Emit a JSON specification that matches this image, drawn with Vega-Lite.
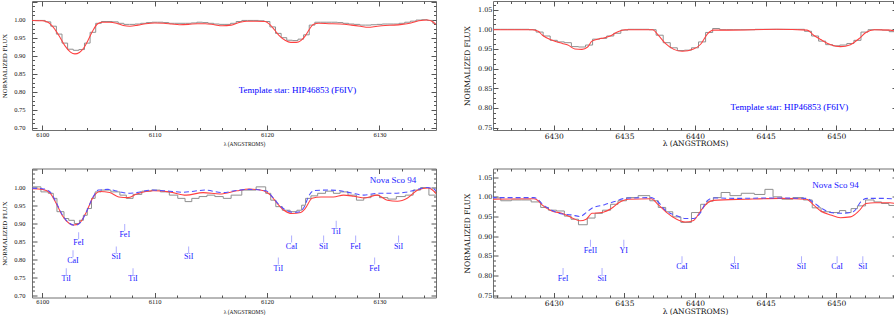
{
"$schema":"https://vega.github.io/schema/vega-lite/v6.json",
"padding":{"left":1,"top":-2,"right":0,"bottom":0},
"config":{"view":{"stroke":"#707070","strokeWidth":1},"axis":{"domain":false,"grid":false,"tickColor":"#555","tickWidth":1,"labelColor":"#111","titleColor":"#111","titleFontWeight":"normal","labelOverlap":false,"labelFlush":false,"labelBound":false}},
"columns":2,
"align":"each",
"spacing":{"row":17.5,"column":26},
"datasets":{
"tlr":[{"w":6099.08,"f":0.998},{"w":6100.0,"f":0.997},{"w":6100.5,"f":0.993},{"w":6101.0,"f":0.978},{"w":6101.5,"f":0.955},{"w":6102.0,"f":0.928},{"w":6102.5,"f":0.91},{"w":6102.9,"f":0.905},{"w":6103.3,"f":0.909},{"w":6103.7,"f":0.922},{"w":6104.1,"f":0.945},{"w":6104.5,"f":0.97},{"w":6104.9,"f":0.988},{"w":6105.3,"f":0.993},{"w":6106.0,"f":0.993},{"w":6106.6,"f":0.99},{"w":6107.2,"f":0.984},{"w":6107.8,"f":0.982},{"w":6108.5,"f":0.985},{"w":6109.2,"f":0.989},{"w":6110.0,"f":0.991},{"w":6110.8,"f":0.99},{"w":6111.5,"f":0.988},{"w":6112.2,"f":0.986},{"w":6113.0,"f":0.987},{"w":6113.8,"f":0.989},{"w":6114.5,"f":0.989},{"w":6115.3,"f":0.986},{"w":6116.0,"f":0.983},{"w":6116.8,"f":0.985},{"w":6117.5,"f":0.992},{"w":6118.2,"f":0.996},{"w":6119.0,"f":0.996},{"w":6119.8,"f":0.995},{"w":6120.3,"f":0.985},{"w":6120.7,"f":0.97},{"w":6121.1,"f":0.955},{"w":6121.6,"f":0.943},{"w":6122.1,"f":0.937},{"w":6122.6,"f":0.937},{"w":6123.0,"f":0.942},{"w":6123.4,"f":0.955},{"w":6123.8,"f":0.975},{"w":6124.1,"f":0.987},{"w":6124.6,"f":0.99},{"w":6125.5,"f":0.989},{"w":6126.5,"f":0.988},{"w":6127.5,"f":0.985},{"w":6128.3,"f":0.982},{"w":6129.0,"f":0.979},{"w":6129.8,"f":0.982},{"w":6130.5,"f":0.984},{"w":6131.3,"f":0.985},{"w":6132.0,"f":0.987},{"w":6132.8,"f":0.991},{"w":6133.5,"f":0.997},{"w":6134.3,"f":0.999},{"w":6134.7,"f":0.995},{"w":6135.03,"f":0.987}],
"tlg":[{"w":6099.0,"f":0.998},{"w":6099.5,"f":0.998},{"w":6100.0,"f":0.998},{"w":6100.5,"f":0.994},{"w":6101.0,"f":0.982},{"w":6101.5,"f":0.96},{"w":6102.0,"f":0.935},{"w":6102.5,"f":0.918},{"w":6103.0,"f":0.915},{"w":6103.5,"f":0.917},{"w":6104.0,"f":0.935},{"w":6104.5,"f":0.965},{"w":6105.0,"f":0.99},{"w":6105.5,"f":0.995},{"w":6106.0,"f":0.995},{"w":6106.5,"f":0.994},{"w":6107.0,"f":0.99},{"w":6107.5,"f":0.987},{"w":6108.0,"f":0.987},{"w":6108.5,"f":0.988},{"w":6109.0,"f":0.99},{"w":6109.5,"f":0.992},{"w":6110.0,"f":0.993},{"w":6110.5,"f":0.993},{"w":6111.0,"f":0.992},{"w":6111.5,"f":0.99},{"w":6112.0,"f":0.99},{"w":6112.5,"f":0.99},{"w":6113.0,"f":0.99},{"w":6113.5,"f":0.991},{"w":6114.0,"f":0.993},{"w":6114.5,"f":0.992},{"w":6115.0,"f":0.99},{"w":6115.5,"f":0.988},{"w":6116.0,"f":0.987},{"w":6116.5,"f":0.987},{"w":6117.0,"f":0.99},{"w":6117.5,"f":0.995},{"w":6118.0,"f":0.998},{"w":6118.5,"f":0.998},{"w":6119.0,"f":0.998},{"w":6119.5,"f":0.997},{"w":6120.0,"f":0.995},{"w":6120.5,"f":0.98},{"w":6121.0,"f":0.962},{"w":6121.5,"f":0.95},{"w":6122.0,"f":0.943},{"w":6122.5,"f":0.942},{"w":6123.0,"f":0.946},{"w":6123.5,"f":0.958},{"w":6124.0,"f":0.985},{"w":6124.5,"f":0.993},{"w":6125.0,"f":0.993},{"w":6125.5,"f":0.993},{"w":6126.0,"f":0.993},{"w":6126.5,"f":0.992},{"w":6127.0,"f":0.99},{"w":6127.5,"f":0.988},{"w":6128.0,"f":0.987},{"w":6128.5,"f":0.985},{"w":6129.0,"f":0.985},{"w":6129.5,"f":0.986},{"w":6130.0,"f":0.987},{"w":6130.5,"f":0.988},{"w":6131.0,"f":0.988},{"w":6131.5,"f":0.988},{"w":6132.0,"f":0.99},{"w":6132.5,"f":0.993},{"w":6133.0,"f":0.996},{"w":6133.5,"f":0.999},{"w":6134.0,"f":1.0},{"w":6134.5,"f":0.998},{"w":6135.0,"f":0.99}],
"trr":[{"w":6425.7,"f":0.999},{"w":6428.5,"f":0.999},{"w":6428.9,"f":0.995},{"w":6429.2,"f":0.985},{"w":6429.9,"f":0.972},{"w":6430.6,"f":0.964},{"w":6431.0,"f":0.96},{"w":6431.5,"f":0.95},{"w":6432.0,"f":0.949},{"w":6432.4,"f":0.955},{"w":6432.7,"f":0.97},{"w":6433.4,"f":0.977},{"w":6434.0,"f":0.983},{"w":6434.5,"f":0.993},{"w":6435.05,"f":0.999},{"w":6437.0,"f":0.999},{"w":6437.4,"f":0.985},{"w":6437.9,"f":0.964},{"w":6438.5,"f":0.949},{"w":6439.1,"f":0.944},{"w":6439.9,"f":0.95},{"w":6440.4,"f":0.962},{"w":6440.9,"f":0.989},{"w":6441.3,"f":0.998},{"w":6442.3,"f":0.998},{"w":6445.8,"f":1.0},{"w":6447.94,"f":0.998},{"w":6448.4,"f":0.985},{"w":6448.9,"f":0.974},{"w":6449.6,"f":0.961},{"w":6450.3,"f":0.956},{"w":6451.0,"f":0.961},{"w":6451.6,"f":0.976},{"w":6452.1,"f":0.992},{"w":6452.7,"f":0.999},{"w":6453.8,"f":0.998},{"w":6454.3,"f":0.994}],
"trg":[{"w":6425.5,"f":0.999},{"w":6426.0,"f":1.0},{"w":6426.5,"f":1.0},{"w":6427.0,"f":1.0},{"w":6427.5,"f":1.0},{"w":6428.0,"f":1.0},{"w":6428.5,"f":0.999},{"w":6429.0,"f":0.993},{"w":6429.5,"f":0.983},{"w":6430.0,"f":0.972},{"w":6430.5,"f":0.968},{"w":6431.0,"f":0.966},{"w":6431.5,"f":0.956},{"w":6432.0,"f":0.955},{"w":6432.5,"f":0.96},{"w":6433.0,"f":0.975},{"w":6433.5,"f":0.977},{"w":6434.0,"f":0.983},{"w":6434.5,"f":0.99},{"w":6435.0,"f":0.998},{"w":6435.5,"f":1.0},{"w":6436.0,"f":1.0},{"w":6436.5,"f":1.0},{"w":6437.0,"f":0.999},{"w":6437.5,"f":0.985},{"w":6438.0,"f":0.966},{"w":6438.5,"f":0.953},{"w":6439.0,"f":0.946},{"w":6439.5,"f":0.947},{"w":6440.0,"f":0.953},{"w":6440.5,"f":0.968},{"w":6441.0,"f":0.992},{"w":6441.5,"f":1.002},{"w":6442.0,"f":0.999},{"w":6442.5,"f":0.999},{"w":6443.0,"f":0.999},{"w":6443.5,"f":0.999},{"w":6444.0,"f":0.999},{"w":6444.5,"f":1.0},{"w":6445.0,"f":1.0},{"w":6445.5,"f":1.0},{"w":6446.0,"f":1.0},{"w":6446.5,"f":1.0},{"w":6447.0,"f":1.0},{"w":6447.5,"f":1.0},{"w":6448.0,"f":0.995},{"w":6448.5,"f":0.983},{"w":6449.0,"f":0.97},{"w":6449.5,"f":0.961},{"w":6450.0,"f":0.958},{"w":6450.5,"f":0.96},{"w":6451.0,"f":0.964},{"w":6451.5,"f":0.972},{"w":6452.0,"f":0.993},{"w":6452.5,"f":0.999},{"w":6453.0,"f":0.999},{"w":6453.5,"f":0.998},{"w":6454.0,"f":0.994},{"w":6454.5,"f":0.994}],
"blr":[{"w":6099.08,"f":0.996},{"w":6100.0,"f":0.994},{"w":6100.65,"f":0.985},{"w":6101.2,"f":0.957},{"w":6101.8,"f":0.92},{"w":6102.4,"f":0.899},{"w":6102.8,"f":0.895},{"w":6103.3,"f":0.9},{"w":6103.9,"f":0.93},{"w":6104.5,"f":0.971},{"w":6105.1,"f":0.988},{"w":6106.0,"f":0.985},{"w":6106.8,"f":0.973},{"w":6107.6,"f":0.971},{"w":6108.4,"f":0.981},{"w":6109.9,"f":0.99},{"w":6111.3,"f":0.987},{"w":6112.8,"f":0.978},{"w":6114.3,"f":0.985},{"w":6115.8,"f":0.981},{"w":6117.3,"f":0.99},{"w":6118.4,"f":0.995},{"w":6119.7,"f":0.99},{"w":6120.3,"f":0.978},{"w":6120.9,"f":0.955},{"w":6121.5,"f":0.936},{"w":6122.2,"f":0.927},{"w":6123.0,"f":0.93},{"w":6123.4,"f":0.941},{"w":6124.0,"f":0.969},{"w":6124.8,"f":0.973},{"w":6125.9,"f":0.973},{"w":6126.8,"f":0.978},{"w":6127.7,"f":0.975},{"w":6128.7,"f":0.97},{"w":6129.8,"f":0.978},{"w":6130.7,"f":0.964},{"w":6131.6,"f":0.961},{"w":6132.5,"f":0.97},{"w":6133.4,"f":0.992},{"w":6134.3,"f":0.998},{"w":6134.9,"f":0.987},{"w":6135.03,"f":0.982}],
"blb":[{"w":6099.08,"f":0.997},{"w":6100.0,"f":0.996},{"w":6100.65,"f":0.988},{"w":6101.2,"f":0.96},{"w":6101.8,"f":0.922},{"w":6102.4,"f":0.9},{"w":6102.9,"f":0.894},{"w":6103.4,"f":0.902},{"w":6103.9,"f":0.93},{"w":6104.5,"f":0.972},{"w":6105.0,"f":0.992},{"w":6105.8,"f":0.994},{"w":6106.8,"f":0.988},{"w":6107.6,"f":0.983},{"w":6108.4,"f":0.985},{"w":6109.7,"f":0.992},{"w":6111.0,"f":0.99},{"w":6112.5,"f":0.986},{"w":6113.5,"f":0.989},{"w":6114.5,"f":0.992},{"w":6116.0,"f":0.985},{"w":6117.3,"f":0.991},{"w":6118.4,"f":0.994},{"w":6119.9,"f":0.99},{"w":6120.5,"f":0.972},{"w":6121.1,"f":0.95},{"w":6121.7,"f":0.936},{"w":6122.3,"f":0.93},{"w":6122.9,"f":0.932},{"w":6123.3,"f":0.945},{"w":6123.7,"f":0.975},{"w":6124.2,"f":0.991},{"w":6125.5,"f":0.992},{"w":6126.5,"f":0.99},{"w":6127.5,"f":0.984},{"w":6128.6,"f":0.978},{"w":6129.8,"f":0.983},{"w":6131.0,"f":0.983},{"w":6132.3,"f":0.986},{"w":6133.3,"f":0.993},{"w":6134.2,"f":0.999},{"w":6134.8,"f":0.996},{"w":6135.03,"f":0.99}],
"blg":[{"w":6099.0,"f":1.001},{"w":6099.5,"f":1.001},{"w":6100.25,"f":0.987},{"w":6100.8,"f":0.983},{"w":6101.15,"f":0.969},{"w":6101.45,"f":0.932},{"w":6101.75,"f":0.932},{"w":6102.1,"f":0.913},{"w":6102.6,"f":0.908},{"w":6103.1,"f":0.899},{"w":6103.5,"f":0.908},{"w":6103.8,"f":0.922},{"w":6104.2,"f":0.941},{"w":6104.55,"f":0.969},{"w":6104.85,"f":0.987},{"w":6105.6,"f":0.992},{"w":6106.6,"f":0.987},{"w":6107.2,"f":0.978},{"w":6107.75,"f":0.969},{"w":6108.4,"f":0.98},{"w":6109.3,"f":0.989},{"w":6110.1,"f":0.992},{"w":6110.9,"f":0.987},{"w":6111.7,"f":0.978},{"w":6112.4,"f":0.969},{"w":6113.0,"f":0.96},{"w":6113.6,"f":0.969},{"w":6114.3,"f":0.974},{"w":6115.0,"f":0.978},{"w":6115.7,"f":0.974},{"w":6116.5,"f":0.969},{"w":6117.1,"f":0.978},{"w":6118.4,"f":0.992},{"w":6119.65,"f":1.001},{"w":6120.1,"f":0.983},{"w":6120.55,"f":0.964},{"w":6121.0,"f":0.946},{"w":6121.7,"f":0.936},{"w":6122.4,"f":0.932},{"w":6122.9,"f":0.936},{"w":6123.25,"f":0.95},{"w":6123.6,"f":0.969},{"w":6124.2,"f":0.976},{"w":6124.8,"f":0.983},{"w":6125.6,"f":0.989},{"w":6126.2,"f":0.983},{"w":6126.8,"f":0.987},{"w":6127.6,"f":0.978},{"w":6128.3,"f":0.964},{"w":6128.9,"f":0.971},{"w":6129.6,"f":0.978},{"w":6130.4,"f":0.971},{"w":6131.1,"f":0.967},{"w":6131.9,"f":0.974},{"w":6132.7,"f":0.978},{"w":6133.3,"f":0.992},{"w":6134.0,"f":0.999},{"w":6134.8,"f":0.978},{"w":6135.2,"f":0.978}],
"bli":[{"w":6102.13,"f":0.744,"t":"TiI"},{"w":6102.73,"f":0.794,"t":"CaI"},{"w":6103.23,"f":0.844,"t":"FeI"},{"w":6106.58,"f":0.805,"t":"SiI"},{"w":6107.33,"f":0.867,"t":"FeI"},{"w":6108.07,"f":0.744,"t":"TiI"},{"w":6113.02,"f":0.805,"t":"SiI"},{"w":6121.0,"f":0.774,"t":"TiI"},{"w":6122.18,"f":0.835,"t":"CaI"},{"w":6125.03,"f":0.835,"t":"SiI"},{"w":6126.15,"f":0.876,"t":"TiI"},{"w":6127.88,"f":0.835,"t":"FeI"},{"w":6129.57,"f":0.774,"t":"FeI"},{"w":6131.7,"f":0.835,"t":"SiI"}],
"brr":[{"w":6425.6,"f":0.994},{"w":6428.6,"f":0.995},{"w":6428.9,"f":0.99},{"w":6429.15,"f":0.98},{"w":6429.86,"f":0.964},{"w":6430.57,"f":0.958},{"w":6431.27,"f":0.947},{"w":6431.86,"f":0.939},{"w":6432.3,"f":0.943},{"w":6432.7,"f":0.958},{"w":6433.4,"f":0.96},{"w":6434.1,"f":0.971},{"w":6434.6,"f":0.985},{"w":6435.3,"f":0.994},{"w":6436.9,"f":0.995},{"w":6437.4,"f":0.98},{"w":6438.0,"f":0.96},{"w":6438.7,"f":0.943},{"w":6439.3,"f":0.936},{"w":6439.9,"f":0.94},{"w":6440.4,"f":0.964},{"w":6440.9,"f":0.985},{"w":6441.3,"f":0.991},{"w":6443.6,"f":0.994},{"w":6446.0,"f":0.996},{"w":6447.9,"f":0.994},{"w":6448.4,"f":0.979},{"w":6448.9,"f":0.964},{"w":6449.6,"f":0.954},{"w":6450.3,"f":0.947},{"w":6451.0,"f":0.949},{"w":6451.6,"f":0.964},{"w":6452.1,"f":0.983},{"w":6452.7,"f":0.985},{"w":6453.8,"f":0.985},{"w":6454.3,"f":0.982}],
"brb":[{"w":6425.6,"f":0.998},{"w":6428.6,"f":0.998},{"w":6428.9,"f":0.993},{"w":6429.15,"f":0.983},{"w":6429.86,"f":0.966},{"w":6430.5,"f":0.957},{"w":6431.27,"f":0.954},{"w":6431.86,"f":0.95},{"w":6432.3,"f":0.96},{"w":6432.7,"f":0.971},{"w":6433.6,"f":0.98},{"w":6434.3,"f":0.988},{"w":6435.05,"f":0.996},{"w":6436.9,"f":0.998},{"w":6437.3,"f":0.99},{"w":6437.9,"f":0.966},{"w":6438.7,"f":0.952},{"w":6439.3,"f":0.945},{"w":6439.9,"f":0.945},{"w":6440.4,"f":0.96},{"w":6440.8,"f":0.988},{"w":6441.3,"f":0.997},{"w":6443.0,"f":0.996},{"w":6445.0,"f":0.997},{"w":6447.9,"f":0.996},{"w":6448.4,"f":0.985},{"w":6449.0,"f":0.97},{"w":6449.6,"f":0.96},{"w":6450.3,"f":0.958},{"w":6451.2,"f":0.962},{"w":6451.8,"f":0.99},{"w":6452.2,"f":0.996},{"w":6453.5,"f":0.996},{"w":6454.3,"f":0.994}],
"brg":[{"w":6425.4,"f":0.997},{"w":6425.9,"f":0.997},{"w":6426.6,"f":0.99},{"w":6427.4,"f":0.992},{"w":6428.0,"f":0.992},{"w":6428.8,"f":0.987},{"w":6429.35,"f":0.973},{"w":6429.9,"f":0.966},{"w":6430.5,"f":0.964},{"w":6431.0,"f":0.951},{"w":6431.45,"f":0.943},{"w":6432.05,"f":0.929},{"w":6432.7,"f":0.946},{"w":6433.15,"f":0.958},{"w":6433.75,"f":0.966},{"w":6434.3,"f":0.981},{"w":6434.8,"f":0.99},{"w":6435.5,"f":0.998},{"w":6436.45,"f":1.003},{"w":6437.15,"f":0.99},{"w":6437.65,"f":0.973},{"w":6438.2,"f":0.962},{"w":6438.65,"f":0.949},{"w":6439.35,"f":0.935},{"w":6440.15,"f":0.96},{"w":6440.65,"f":0.981},{"w":6441.05,"f":0.989},{"w":6441.55,"f":0.998},{"w":6442.15,"f":1.011},{"w":6442.8,"f":1.003},{"w":6443.75,"f":1.009},{"w":6444.65,"f":1.006},{"w":6445.25,"f":1.019},{"w":6445.8,"f":1.0},{"w":6446.5,"f":0.994},{"w":6447.35,"f":0.998},{"w":6448.0,"f":0.992},{"w":6448.6,"f":0.972},{"w":6449.25,"f":0.962},{"w":6449.95,"f":0.96},{"w":6450.5,"f":0.965},{"w":6450.85,"f":0.96},{"w":6451.25,"f":0.97},{"w":6451.75,"f":0.977},{"w":6452.4,"f":0.992},{"w":6452.95,"f":0.987},{"w":6453.45,"f":0.983},{"w":6454.0,"f":0.978},{"w":6454.6,"f":0.978}],
"bri":[{"w":6430.66,"f":0.791,"t":"FeI"},{"w":6432.6,"f":0.863,"t":"FeII"},{"w":6433.42,"f":0.791,"t":"SiI"},{"w":6434.96,"f":0.863,"t":"YI"},{"w":6439.08,"f":0.821,"t":"CaI"},{"w":6442.8,"f":0.821,"t":"SiI"},{"w":6447.54,"f":0.821,"t":"SiI"},{"w":6450.06,"f":0.821,"t":"CaI"},{"w":6451.88,"f":0.821,"t":"SiI"}]
},
"concat":[
{"width":404,"height":129,
"resolve":{"axis":{"x":"independent","y":"independent"}},
"encoding":{"x":{"field":"w","type":"quantitative","scale":{"domain":[6099.08,6135.03],"nice":false,"zero":false},"axis":null},"y":{"field":"f","type":"quantitative","scale":{"domain":[0.6935,1.052],"nice":false,"zero":false},"axis":null}},
"layer":[
{"data":{"name":"tlg"},"mark":{"type":"line","interpolate":"step","color":"#8f8f8f","strokeWidth":1,"clip":true},
"encoding":{"x":{"field":"w","type":"quantitative","scale":{"domain":[6099.08,6135.03],"nice":false,"zero":false},"axis":{"orient":"bottom","values":[6100,6102,6104,6106,6108,6110,6112,6114,6116,6118,6120,6122,6124,6126,6128,6130,6132,6134],"labelExpr":"datum.value % 10 == 0 ? format(datum.value,'d') : ''","tickSize":{"condition":{"test":"datum.value % 10 == 0","value":-5},"value":-2.5},"labelPadding":6,"labelFont":"Liberation Serif","labelFontSize":6.5,"title":"λ (ANGSTROMS)","titleFont":"Liberation Serif","titleFontSize":5.5,"titlePadding":1.5,"titleX":212}},
"y":{"field":"f","type":"quantitative","scale":{"domain":[0.6935,1.052],"nice":false,"zero":false},"axis":{"orient":"left","values":[0.7,0.7125,0.725,0.7375,0.75,0.7625,0.775,0.7875,0.8,0.8125,0.825,0.8375,0.85,0.8625,0.875,0.8875,0.9,0.9125,0.925,0.9375,0.95,0.9625,0.975,0.9875,1.0,1.0125,1.025,1.0375,1.05],"labelExpr":"abs(datum.value*20-round(datum.value*20))<0.01 && datum.value<1.02 ? format(datum.value,'.2f') : ''","tickSize":{"condition":{"test":"abs(datum.value*20-round(datum.value*20))<0.01","value":-5},"value":-2.5},"labelPadding":12,"labelFont":"Liberation Serif","labelFontSize":6.5,"title":"NORMALIZED FLUX","titleFont":"Liberation Serif","titleFontSize":6.8,"titlePadding":6}}}},
{"data":{"name":"tlr"},"mark":{"type":"line","interpolate":"monotone","color":"#ff4040","strokeWidth":1.05,"clip":true},"encoding":{}},
{"data":{"name":"tlr"},"mark":{"type":"line","strokeOpacity":0,"clip":true},
"encoding":{"x":{"field":"w","type":"quantitative","scale":{"domain":[6099.08,6135.03],"nice":false,"zero":false},"axis":{"orient":"top","labels":false,"title":null,"values":[6100,6102,6104,6106,6108,6110,6112,6114,6116,6118,6120,6122,6124,6126,6128,6130,6132,6134],"tickSize":{"condition":{"test":"datum.value % 10 == 0","value":-5},"value":-2.5}}},
"y":{"field":"f","type":"quantitative","scale":{"domain":[0.6935,1.052],"nice":false,"zero":false},"axis":{"orient":"right","labels":false,"title":null,"values":[0.7,0.7125,0.725,0.7375,0.75,0.7625,0.775,0.7875,0.8,0.8125,0.825,0.8375,0.85,0.8625,0.875,0.8875,0.9,0.9125,0.925,0.9375,0.95,0.9625,0.975,0.9875,1.0,1.0125,1.025,1.0375,1.05],"tickSize":{"condition":{"test":"abs(datum.value*20-round(datum.value*20))<0.01","value":-5},"value":-2.5}}}}},
{"data":{"values":[{"w":6122.7,"f":0.804,"t":"Template star:  HIP46853 (F6IV)"}]},"mark":{"type":"text","color":"#0000ff","font":"Liberation Serif","fontSize":9,"baseline":"middle"},"encoding":{"text":{"field":"t"}}}
]},
{"width":404,"height":129,
"resolve":{"axis":{"x":"independent","y":"independent"}},
"encoding":{"x":{"field":"w","type":"quantitative","scale":{"domain":[6425.7,6454.3],"nice":false,"zero":false},"axis":null},"y":{"field":"f","type":"quantitative","scale":{"domain":[0.744,1.072],"nice":false,"zero":false},"axis":null}},
"layer":[
{"data":{"name":"trg"},"mark":{"type":"line","interpolate":"step","color":"#8f8f8f","strokeWidth":1,"clip":true},
"encoding":{"x":{"field":"w","type":"quantitative","scale":{"domain":[6425.7,6454.3],"nice":false,"zero":false},"axis":{"orient":"bottom","values":[6426,6427,6428,6429,6430,6431,6432,6433,6434,6435,6436,6437,6438,6439,6440,6441,6442,6443,6444,6445,6446,6447,6448,6449,6450,6451,6452,6453,6454],"labelExpr":"datum.value % 5 == 0 ? format(datum.value,'d') : ''","tickSize":{"condition":{"test":"datum.value % 5 == 0","value":-5},"value":-2.5},"labelPadding":7,"labelFont":"DejaVu Serif","labelFontSize":7.5,"title":"λ (ANGSTROMS)","titleFont":"DejaVu Serif","titleFontSize":7.5,"titlePadding":-2.5}},
"y":{"field":"f","type":"quantitative","scale":{"domain":[0.744,1.072],"nice":false,"zero":false},"axis":{"orient":"left","values":[0.75,0.7625,0.775,0.7875,0.8,0.8125,0.825,0.8375,0.85,0.8625,0.875,0.8875,0.9,0.9125,0.925,0.9375,0.95,0.9625,0.975,0.9875,1.0,1.0125,1.025,1.0375,1.05,1.0625],"labelExpr":"abs(datum.value*20-round(datum.value*20))<0.01 ? format(datum.value,'.2f') : ''","tickSize":{"condition":{"test":"abs(datum.value*20-round(datum.value*20))<0.01","value":-5},"value":-2.5},"labelPadding":6,"labelFont":"DejaVu Serif","labelFontSize":6.5,"title":"NORMALIZED FLUX","titleFont":"DejaVu Serif","titleFontSize":7.5,"titlePadding":6}}}},
{"data":{"name":"trr"},"mark":{"type":"line","interpolate":"monotone","color":"#ff4040","strokeWidth":1.05,"clip":true},"encoding":{}},
{"data":{"name":"trr"},"mark":{"type":"line","strokeOpacity":0,"clip":true},
"encoding":{"x":{"field":"w","type":"quantitative","scale":{"domain":[6425.7,6454.3],"nice":false,"zero":false},"axis":{"orient":"top","labels":false,"title":null,"values":[6426,6427,6428,6429,6430,6431,6432,6433,6434,6435,6436,6437,6438,6439,6440,6441,6442,6443,6444,6445,6446,6447,6448,6449,6450,6451,6452,6453,6454],"tickSize":{"condition":{"test":"datum.value % 5 == 0","value":-5},"value":-2.5}}},
"y":{"field":"f","type":"quantitative","scale":{"domain":[0.744,1.072],"nice":false,"zero":false},"axis":{"orient":"right","labels":false,"title":null,"values":[0.75,0.7625,0.775,0.7875,0.8,0.8125,0.825,0.8375,0.85,0.8625,0.875,0.8875,0.9,0.9125,0.925,0.9375,0.95,0.9625,0.975,0.9875,1.0,1.0125,1.025,1.0375,1.05,1.0625],"tickSize":{"condition":{"test":"abs(datum.value*20-round(datum.value*20))<0.01","value":-5},"value":-2.5}}}}},
{"data":{"values":[{"w":6446.68,"f":0.803,"t":"Template star:  HIP46853 (F6IV)"}]},"mark":{"type":"text","color":"#0000ff","font":"Liberation Serif","fontSize":9,"baseline":"middle"},"encoding":{"text":{"field":"t"}}}
]},
{"width":404,"height":129,
"resolve":{"axis":{"x":"independent","y":"independent"}},
"encoding":{"x":{"field":"w","type":"quantitative","scale":{"domain":[6099.08,6135.03],"nice":false,"zero":false},"axis":null},"y":{"field":"f","type":"quantitative","scale":{"domain":[0.6935,1.052],"nice":false,"zero":false},"axis":null}},
"layer":[
{"data":{"name":"blg"},"mark":{"type":"line","interpolate":"step","color":"#8f8f8f","strokeWidth":1,"clip":true},
"encoding":{"x":{"field":"w","type":"quantitative","scale":{"domain":[6099.08,6135.03],"nice":false,"zero":false},"axis":{"orient":"bottom","values":[6100,6102,6104,6106,6108,6110,6112,6114,6116,6118,6120,6122,6124,6126,6128,6130,6132,6134],"labelExpr":"datum.value % 10 == 0 ? format(datum.value,'d') : ''","tickSize":{"condition":{"test":"datum.value % 10 == 0","value":-5},"value":-2.5},"labelPadding":6,"labelFont":"Liberation Serif","labelFontSize":6.5,"title":"λ (ANGSTROMS)","titleFont":"Liberation Serif","titleFontSize":5.5,"titlePadding":1.5,"titleX":212}},
"y":{"field":"f","type":"quantitative","scale":{"domain":[0.6935,1.052],"nice":false,"zero":false},"axis":{"orient":"left","values":[0.7,0.7125,0.725,0.7375,0.75,0.7625,0.775,0.7875,0.8,0.8125,0.825,0.8375,0.85,0.8625,0.875,0.8875,0.9,0.9125,0.925,0.9375,0.95,0.9625,0.975,0.9875,1.0,1.0125,1.025,1.0375,1.05],"labelExpr":"abs(datum.value*20-round(datum.value*20))<0.01 && datum.value<1.02 ? format(datum.value,'.2f') : ''","tickSize":{"condition":{"test":"abs(datum.value*20-round(datum.value*20))<0.01","value":-5},"value":-2.5},"labelPadding":12,"labelFont":"Liberation Serif","labelFontSize":6.5,"title":"NORMALIZED FLUX","titleFont":"Liberation Serif","titleFontSize":6.8,"titlePadding":6}}}},
{"data":{"name":"blr"},"mark":{"type":"line","interpolate":"monotone","color":"#ff4040","strokeWidth":1.05,"clip":true},"encoding":{}},
{"data":{"name":"blb"},"mark":{"type":"line","interpolate":"monotone","color":"#5050ff","strokeWidth":1.05,"strokeDash":[5,3],"clip":true},"encoding":{}},
{"data":{"name":"blr"},"mark":{"type":"line","strokeOpacity":0,"clip":true},
"encoding":{"x":{"field":"w","type":"quantitative","scale":{"domain":[6099.08,6135.03],"nice":false,"zero":false},"axis":{"orient":"top","labels":false,"title":null,"values":[6100,6102,6104,6106,6108,6110,6112,6114,6116,6118,6120,6122,6124,6126,6128,6130,6132,6134],"tickSize":{"condition":{"test":"datum.value % 10 == 0","value":-5},"value":-2.5}}},
"y":{"field":"f","type":"quantitative","scale":{"domain":[0.6935,1.052],"nice":false,"zero":false},"axis":{"orient":"right","labels":false,"title":null,"values":[0.7,0.7125,0.725,0.7375,0.75,0.7625,0.775,0.7875,0.8,0.8125,0.825,0.8375,0.85,0.8625,0.875,0.8875,0.9,0.9125,0.925,0.9375,0.95,0.9625,0.975,0.9875,1.0,1.0125,1.025,1.0375,1.05],"tickSize":{"condition":{"test":"abs(datum.value*20-round(datum.value*20))<0.01","value":-5},"value":-2.5}}}}},
{"data":{"name":"bli"},"mark":{"type":"tick","orient":"vertical","size":7,"thickness":1,"yOffset":-7.5,"color":"#8c8cff"},"encoding":{}},
{"data":{"name":"bli"},"mark":{"type":"text","color":"#1a1aff","font":"Liberation Serif","fontSize":8,"baseline":"middle"},"encoding":{"text":{"field":"t"}}},
{"data":{"values":[{"w":6131.2,"f":1.019,"t":"Nova Sco 94"}]},"mark":{"type":"text","color":"#1a1aff","font":"Liberation Serif","fontSize":9,"baseline":"middle"},"encoding":{"text":{"field":"t"}}}
]},
{"width":404,"height":129,
"resolve":{"axis":{"x":"independent","y":"independent"}},
"encoding":{"x":{"field":"w","type":"quantitative","scale":{"domain":[6425.7,6454.3],"nice":false,"zero":false},"axis":null},"y":{"field":"f","type":"quantitative","scale":{"domain":[0.744,1.072],"nice":false,"zero":false},"axis":null}},
"layer":[
{"data":{"name":"brg"},"mark":{"type":"line","interpolate":"step","color":"#8f8f8f","strokeWidth":1,"clip":true},
"encoding":{"x":{"field":"w","type":"quantitative","scale":{"domain":[6425.7,6454.3],"nice":false,"zero":false},"axis":{"orient":"bottom","values":[6426,6427,6428,6429,6430,6431,6432,6433,6434,6435,6436,6437,6438,6439,6440,6441,6442,6443,6444,6445,6446,6447,6448,6449,6450,6451,6452,6453,6454],"labelExpr":"datum.value % 5 == 0 ? format(datum.value,'d') : ''","tickSize":{"condition":{"test":"datum.value % 5 == 0","value":-5},"value":-2.5},"labelPadding":7,"labelFont":"DejaVu Serif","labelFontSize":7.5,"title":"λ (ANGSTROMS)","titleFont":"DejaVu Serif","titleFontSize":7.5,"titlePadding":-2.5}},
"y":{"field":"f","type":"quantitative","scale":{"domain":[0.744,1.072],"nice":false,"zero":false},"axis":{"orient":"left","values":[0.75,0.7625,0.775,0.7875,0.8,0.8125,0.825,0.8375,0.85,0.8625,0.875,0.8875,0.9,0.9125,0.925,0.9375,0.95,0.9625,0.975,0.9875,1.0,1.0125,1.025,1.0375,1.05,1.0625],"labelExpr":"abs(datum.value*20-round(datum.value*20))<0.01 ? format(datum.value,'.2f') : ''","tickSize":{"condition":{"test":"abs(datum.value*20-round(datum.value*20))<0.01","value":-5},"value":-2.5},"labelPadding":6,"labelFont":"DejaVu Serif","labelFontSize":6.5,"title":"NORMALIZED FLUX","titleFont":"DejaVu Serif","titleFontSize":7.5,"titlePadding":6}}}},
{"data":{"name":"brr"},"mark":{"type":"line","interpolate":"monotone","color":"#ff4040","strokeWidth":1.05,"clip":true},"encoding":{}},
{"data":{"name":"brb"},"mark":{"type":"line","interpolate":"monotone","color":"#5050ff","strokeWidth":1.05,"strokeDash":[5,3],"clip":true},"encoding":{}},
{"data":{"name":"brr"},"mark":{"type":"line","strokeOpacity":0,"clip":true},
"encoding":{"x":{"field":"w","type":"quantitative","scale":{"domain":[6425.7,6454.3],"nice":false,"zero":false},"axis":{"orient":"top","labels":false,"title":null,"values":[6426,6427,6428,6429,6430,6431,6432,6433,6434,6435,6436,6437,6438,6439,6440,6441,6442,6443,6444,6445,6446,6447,6448,6449,6450,6451,6452,6453,6454],"tickSize":{"condition":{"test":"datum.value % 5 == 0","value":-5},"value":-2.5}}},
"y":{"field":"f","type":"quantitative","scale":{"domain":[0.744,1.072],"nice":false,"zero":false},"axis":{"orient":"right","labels":false,"title":null,"values":[0.75,0.7625,0.775,0.7875,0.8,0.8125,0.825,0.8375,0.85,0.8625,0.875,0.8875,0.9,0.9125,0.925,0.9375,0.95,0.9625,0.975,0.9875,1.0,1.0125,1.025,1.0375,1.05,1.0625],"tickSize":{"condition":{"test":"abs(datum.value*20-round(datum.value*20))<0.01","value":-5},"value":-2.5}}}}},
{"data":{"name":"bri"},"mark":{"type":"tick","orient":"vertical","size":7,"thickness":1,"yOffset":-7.5,"color":"#8c8cff"},"encoding":{}},
{"data":{"name":"bri"},"mark":{"type":"text","color":"#1a1aff","font":"Liberation Serif","fontSize":8,"baseline":"middle"},"encoding":{"text":{"field":"t"}}},
{"data":{"values":[{"w":6449.95,"f":1.029,"t":"Nova Sco 94"}]},"mark":{"type":"text","color":"#1a1aff","font":"Liberation Serif","fontSize":9,"baseline":"middle"},"encoding":{"text":{"field":"t"}}}
]}
]
}
